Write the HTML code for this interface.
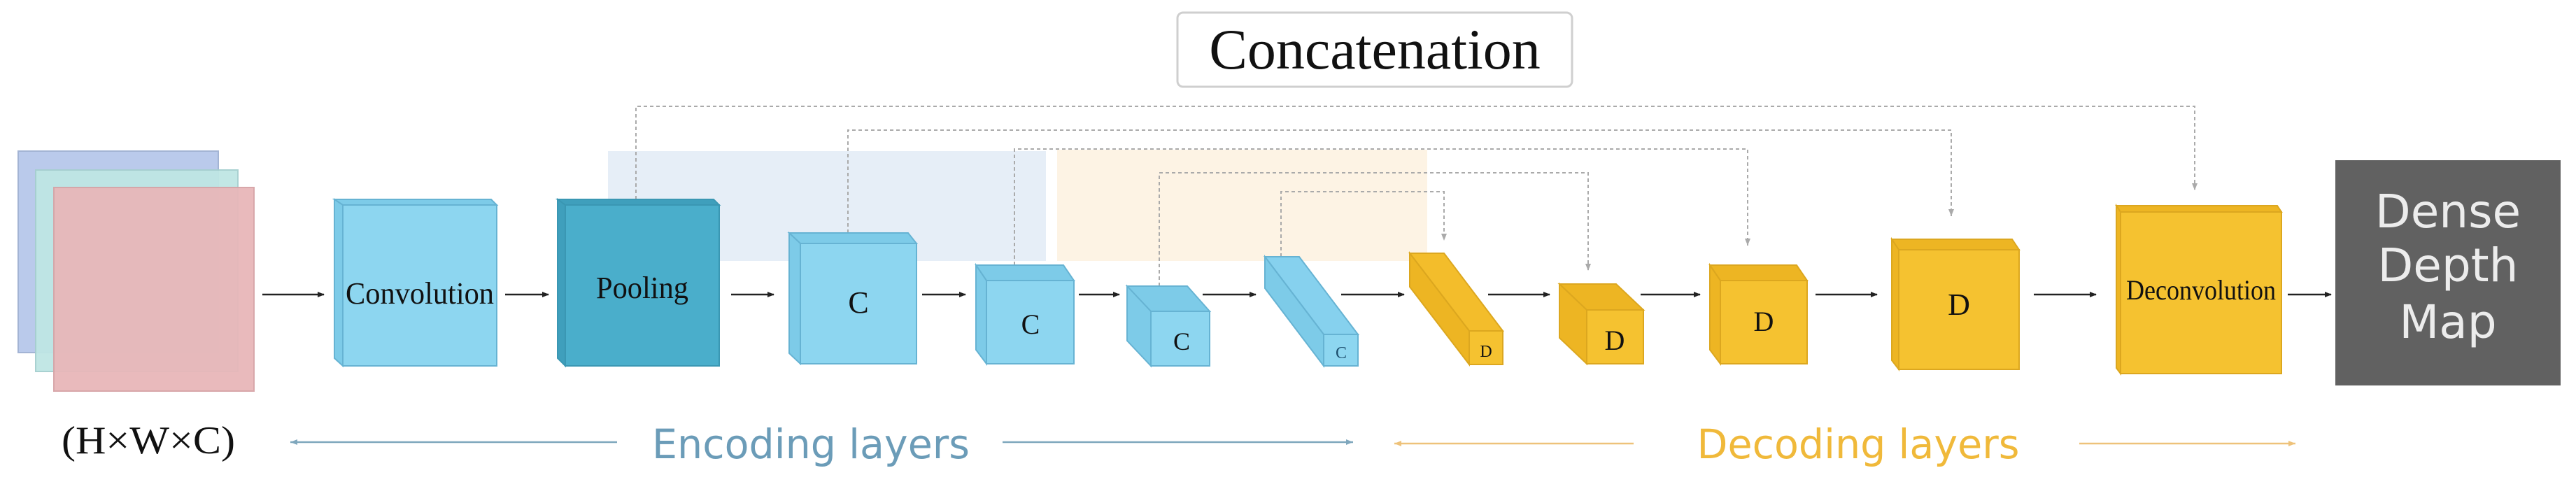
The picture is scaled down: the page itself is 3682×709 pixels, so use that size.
<!DOCTYPE html>
<html><head><meta charset="utf-8"><style>html,body{margin:0;padding:0;background:#fff}svg{display:block}</style></head>
<body>
<svg width="3682" height="709" viewBox="0 0 3682 709" xmlns="http://www.w3.org/2000/svg">
<defs>
<marker id="ah" markerWidth="10" markerHeight="10" refX="9" refY="5" orient="auto" markerUnits="userSpaceOnUse"><path d="M0,1 L10,5 L0,9 Z" fill="#222"/></marker>
<marker id="ahg" markerWidth="12" markerHeight="12" refX="10" refY="6" orient="auto" markerUnits="userSpaceOnUse"><path d="M0,2 L10,6 L0,10 Z" fill="#aaa"/></marker>
<marker id="ahb" markerWidth="12" markerHeight="12" refX="10" refY="6" orient="auto" markerUnits="userSpaceOnUse"><path d="M0,2 L10,6 L0,10 Z" fill="#7fa7bd"/></marker>
<marker id="aho" markerWidth="12" markerHeight="12" refX="10" refY="6" orient="auto" markerUnits="userSpaceOnUse"><path d="M0,2 L10,6 L0,10 Z" fill="#eec27a"/></marker>
</defs>

<!-- background highlight rects -->
<rect x="869" y="216" width="626" height="157" fill="#e6eef7"/>
<rect x="1511" y="214" width="529" height="159" fill="#fdf3e4"/>

<!-- concatenation box -->
<rect x="1683" y="18" width="564" height="106" rx="8" fill="#fff" stroke="#cfcfcf" stroke-width="3"/>
<text x="1965" y="98" font-family="Liberation Serif, serif" font-size="82" text-anchor="middle" fill="#111">Concatenation</text>

<!-- dashed skip lines -->
<g fill="none" stroke="#aaa" stroke-width="2" stroke-dasharray="5,4">
<path d="M909,285 V152 H3137 V272" marker-end="url(#ahg)"/>
<path d="M1212,333 V186 H2789 V309" marker-end="url(#ahg)"/>
<path d="M1450,379 V213 H2498 V351" marker-end="url(#ahg)"/>
<path d="M1657,409 V247 H2270 V387" marker-end="url(#ahg)"/>
<path d="M1831,367 V274 H2064 V344" marker-end="url(#ahg)"/>
</g>

<!-- input stack -->
<rect x="26" y="216" width="286" height="288" fill="#b7c8ea" stroke="#9fb0d2" stroke-width="2" opacity="0.95"/>
<rect x="51" y="243" width="289" height="288" fill="#bfe6e4" stroke="#a5cfcf" stroke-width="2" opacity="0.95"/>
<rect x="77" y="268" width="286" height="291" fill="#e8b7b9" stroke="#d6a3a6" stroke-width="2" opacity="0.95"/>

<!-- encoder blocks -->
<g stroke="#66b3d3" stroke-width="2">
<!-- Convolution -->
<polygon points="478,285 702,285 710,293 490,293" fill="#7dcbe8"/>
<polygon points="478,285 490,293 490,523 478,512" fill="#7dcbe8"/>
<rect x="490" y="293" width="220" height="230" fill="#8dd6f0"/>
<!-- Pooling -->
<g stroke="#3a97b3">
<polygon points="797,285 1020,285 1028,293 808,293" fill="#3f9fbc"/>
<polygon points="797,285 808,293 808,523 797,512" fill="#3f9fbc"/>
<rect x="808" y="293" width="220" height="230" fill="#4aaecb"/>
</g>
<!-- C1 -->
<polygon points="1128,333 1298,333 1310,348 1144,348" fill="#7dcbe8"/>
<polygon points="1128,333 1144,348 1144,520 1128,505" fill="#7dcbe8"/>
<rect x="1144" y="348" width="166" height="172" fill="#8dd6f0"/>
<!-- C2 -->
<polygon points="1395,379 1520,379 1535,401 1410,401" fill="#7dcbe8"/>
<polygon points="1395,379 1410,401 1410,520 1395,500" fill="#7dcbe8"/>
<rect x="1410" y="401" width="125" height="119" fill="#8dd6f0"/>
<!-- C3 -->
<polygon points="1611,409 1697,409 1729,445 1645,445" fill="#7dcbe8"/>
<polygon points="1611,409 1645,445 1645,523 1611,487" fill="#7dcbe8"/>
<rect x="1645" y="445" width="84" height="78" fill="#8dd6f0"/>
<!-- C4 slanted -->
<polygon points="1808,367 1857,367 1941,478 1892,478" fill="#86d1ee"/>
<polygon points="1808,367 1892,478 1892,523 1808,412" fill="#7dcbe8"/>
<rect x="1892" y="478" width="49" height="45" fill="#8dd6f0"/>
</g>

<!-- decoder blocks -->
<g stroke="#dca71f" stroke-width="2">
<!-- D1 slanted -->
<polygon points="2015,362 2064,362 2148,473 2100,473" fill="#f3bd2b"/>
<polygon points="2015,362 2100,473 2100,521 2015,410" fill="#edb523"/>
<rect x="2100" y="473" width="48" height="48" fill="#f5c230"/>
<!-- D2 -->
<polygon points="2229,406 2310,406 2349,443 2268,443" fill="#edb523"/>
<polygon points="2229,406 2268,443 2268,520 2229,483" fill="#edb523"/>
<rect x="2268" y="443" width="81" height="77" fill="#f5c230"/>
<!-- D3 -->
<polygon points="2444,379 2568,379 2583,401 2459,401" fill="#edb523"/>
<polygon points="2444,379 2459,401 2459,520 2444,500" fill="#edb523"/>
<rect x="2459" y="401" width="124" height="119" fill="#f5c230"/>
<!-- D4 -->
<polygon points="2704,342 2876,342 2886,357 2714,357" fill="#edb523"/>
<polygon points="2704,342 2714,357 2714,528 2704,515" fill="#edb523"/>
<rect x="2714" y="357" width="172" height="171" fill="#f5c230"/>
<!-- Deconvolution -->
<polygon points="3025,294 3255,294 3261,303 3031,303" fill="#edb523"/>
<polygon points="3025,294 3031,303 3031,534 3025,526" fill="#edb523"/>
<rect x="3031" y="303" width="230" height="231" fill="#f5c230"/>
</g>

<!-- block labels -->
<g font-family="Liberation Serif, serif" fill="#111">
<text x="600" y="434" font-size="44" text-anchor="middle" textLength="212" lengthAdjust="spacingAndGlyphs">Convolution</text>
<text x="918" y="426" font-size="44" text-anchor="middle" textLength="132" lengthAdjust="spacingAndGlyphs">Pooling</text>
<text x="1227" y="447" font-size="44" text-anchor="middle">C</text>
<text x="1473" y="477" font-size="40" text-anchor="middle">C</text>
<text x="1689" y="500" font-size="36" text-anchor="middle">C</text>
<text x="1917" y="512" font-size="24" text-anchor="middle" fill="#1e4f6e">C</text>
<text x="2124" y="510" font-size="24" text-anchor="middle">D</text>
<text x="2308" y="500" font-size="40" text-anchor="middle">D</text>
<text x="2521" y="473" font-size="40" text-anchor="middle">D</text>
<text x="2800" y="450" font-size="44" text-anchor="middle">D</text>
<text x="3146" y="428" font-size="40" text-anchor="middle" textLength="214" lengthAdjust="spacingAndGlyphs">Deconvolution</text>
</g>

<!-- flow arrows -->
<g stroke="#222" stroke-width="2.5" marker-end="url(#ah)">
<line x1="375" y1="421" x2="463" y2="421"/>
<line x1="722" y1="421" x2="784" y2="421"/>
<line x1="1045" y1="421" x2="1106" y2="421"/>
<line x1="1318" y1="421" x2="1380" y2="421"/>
<line x1="1542" y1="421" x2="1600" y2="421"/>
<line x1="1719" y1="421" x2="1795" y2="421"/>
<line x1="1917" y1="421" x2="2007" y2="421"/>
<line x1="2127" y1="421" x2="2215" y2="421"/>
<line x1="2345" y1="421" x2="2430" y2="421"/>
<line x1="2595" y1="421" x2="2683" y2="421"/>
<line x1="2907" y1="421" x2="2996" y2="421"/>
<line x1="3270" y1="421" x2="3332" y2="421"/>
</g>

<!-- Dense depth map -->
<rect x="3338" y="229" width="322" height="322" fill="#616161"/>
<g font-family="DejaVu Sans, Liberation Sans, sans-serif" font-size="66" fill="#ececec" text-anchor="middle">
<text x="3499" y="325">Dense</text>
<text x="3499" y="402">Depth</text>
<text x="3499" y="483">Map</text>
</g>

<!-- bottom labels -->
<text x="212" y="648" font-family="Liberation Serif, serif" font-size="56" text-anchor="middle" fill="#111" textLength="248" lengthAdjust="spacingAndGlyphs">(H×W×C)</text>
<g stroke-width="2.5">
<line x1="882" y1="632" x2="415" y2="632" stroke="#7fa7bd" marker-end="url(#ahb)"/>
<line x1="1433" y1="632" x2="1934" y2="632" stroke="#7fa7bd" marker-end="url(#ahb)"/>
<line x1="2335" y1="634" x2="1993" y2="634" stroke="#eec27a" marker-end="url(#aho)"/>
<line x1="2972" y1="634" x2="3281" y2="634" stroke="#eec27a" marker-end="url(#aho)"/>
</g>
<text x="1159" y="655" font-family="DejaVu Sans, Liberation Sans, sans-serif" font-size="58" text-anchor="middle" fill="#6b9cb8" textLength="454" lengthAdjust="spacingAndGlyphs">Encoding layers</text>
<text x="2656" y="655" font-family="DejaVu Sans, Liberation Sans, sans-serif" font-size="58" text-anchor="middle" fill="#f0b93a" textLength="461" lengthAdjust="spacingAndGlyphs">Decoding layers</text>
</svg>
</body></html>
